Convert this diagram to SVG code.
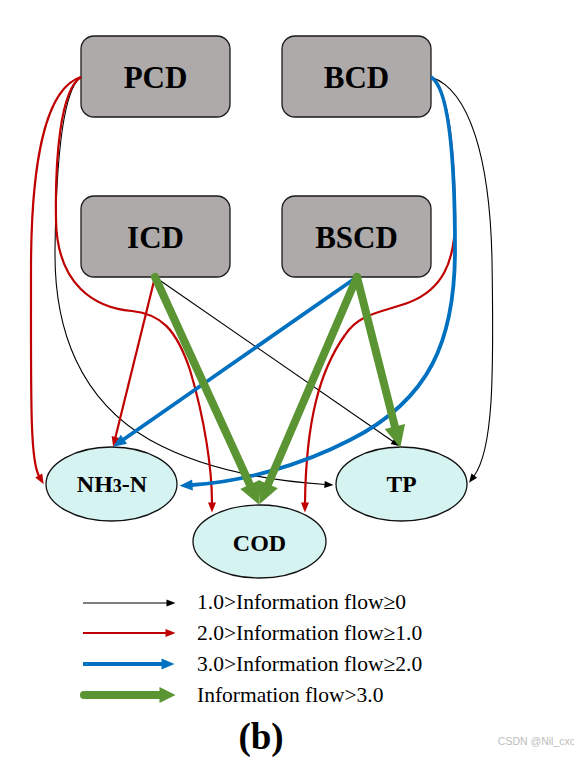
<svg xmlns="http://www.w3.org/2000/svg" width="574" height="758" viewBox="0 0 574 758">
<defs>
<style>
.box{fill:#aeaaaa;stroke:#1a1a1a;stroke-width:1.3}
.ell{fill:#d5f3f0;stroke:#111;stroke-width:1.3}
.lbl{font-weight:bold;fill:#000;text-anchor:middle}
.leg{font-size:21.5px;fill:#000}
.k{fill:none;stroke:#000;stroke-width:1.1}
.r{fill:none;stroke:#c00000;stroke-width:2.2}
.b{fill:none;stroke:#0070c0;stroke-width:3.8}
.g{fill:none;stroke:#5b9533;stroke-width:8;stroke-linecap:round}
</style>
<marker id="mk" markerUnits="userSpaceOnUse" markerWidth="10" markerHeight="8" refX="0.5" refY="3.5" orient="auto" overflow="visible"><path d="M0,0 L9,3.5 L0,7z" fill="#000"/></marker>
<marker id="mr" markerUnits="userSpaceOnUse" markerWidth="10" markerHeight="9" refX="0.5" refY="4" orient="auto" overflow="visible"><path d="M0,0 L10,4 L0,8z" fill="#c00000"/></marker>
<marker id="mb" markerUnits="userSpaceOnUse" markerWidth="13" markerHeight="12" refX="0.5" refY="5.5" orient="auto" overflow="visible"><path d="M0,0 L13,5.5 L0,11z" fill="#0070c0"/></marker>
<marker id="mg" markerUnits="userSpaceOnUse" markerWidth="22" markerHeight="22" refX="0.5" refY="10.5" orient="auto" overflow="visible"><path d="M0,0 L22,10.5 L0,21z" fill="#5b9533"/></marker>
<marker id="mgl" markerUnits="userSpaceOnUse" markerWidth="16" markerHeight="17" refX="0.5" refY="8" orient="auto" overflow="visible"><path d="M0,0 L16,8 L0,16z" fill="#5b9533"/></marker>
</defs>
<rect width="574" height="758" fill="#fff"/>

<g font-family="'Liberation Serif', 'Times New Roman', serif">
<g id="PCD"><rect class="box" x="81" y="36" width="149" height="81" rx="13"/><text class="lbl" x="155.5" y="88" font-size="31">PCD</text></g>
<g id="BCD"><rect class="box" x="282" y="36" width="149" height="81" rx="13"/><text class="lbl" x="356.5" y="88" font-size="31">BCD</text></g>
<g id="ICD"><rect class="box" x="81" y="196" width="149" height="81" rx="13"/><text class="lbl" x="155.5" y="248" font-size="31">ICD</text></g>
<g id="BSCD"><rect class="box" x="282" y="196" width="149" height="81" rx="13"/><text class="lbl" x="356.5" y="248" font-size="31">BSCD</text></g>
<g id="NH3N"><ellipse class="ell" cx="111.5" cy="484" rx="65.5" ry="37"/><text class="lbl" x="112" y="492" font-size="24">NH<tspan font-size="18">3</tspan>-N</text></g>
<g id="TP"><ellipse class="ell" cx="401.5" cy="484" rx="65.5" ry="37"/><text class="lbl" x="401.5" y="492" font-size="23.5">TP</text></g>
<g id="COD"><ellipse class="ell" cx="259.5" cy="541.5" rx="66.5" ry="36.5"/><text class="lbl" x="259.5" y="551" font-size="24">COD</text></g>
</g>

<g id="connectors">
<path class="k" marker-end="url(#mk)" d="M81,77 C62,90 56,170 55,250 C54,330 80,400 150,440 C200,468 260,480 325,484.5"/>
<path class="k" marker-end="url(#mk)" d="M155,277 L393,441.5"/>
<path class="k" marker-end="url(#mk)" d="M431,77 C470,90 490,160 492,260 C494,380 493,450 474,476"/>
<path class="r" marker-end="url(#mr)" d="M81,77 C46,88 31,160 31,270 C31,400 30,460 39,476"/>
<path class="r" marker-end="url(#mr)" d="M81,77 C60,90 55,160 56,220 C57,285 95,308 132,311 C160,314 176,328 190,370 C205,420 212,470 212,503"/>
<path class="r" marker-end="url(#mr)" d="M155,277 L115.4,437.5"/>
<path class="r" marker-end="url(#mr)" d="M431,77 C448,88 454,150 455,215 C456,265 440,290 410,302 C385,312 360,312 345,335 C320,370 306,420 305,503"/>
<path class="b" marker-end="url(#mb)" d="M357,277 L123.5,439.5"/>
<path class="b" marker-end="url(#mb)" d="M431,77 C449,88 455,160 455,250 C455,340 430,400 350,440 C300,466 240,482 192,485"/>
<path class="g" marker-end="url(#mg)" d="M155,277 L250,485"/>
<path class="g" marker-end="url(#mg)" d="M357,277 L268,484.5"/>
<path class="g" marker-end="url(#mg)" d="M357,277 L395,427"/>
</g>

<g id="legend" font-family="'Liberation Serif', 'Times New Roman', serif">
<line class="k" x1="83" y1="603" x2="167" y2="603" marker-end="url(#mk)"/>
<line class="r" x1="83" y1="633" x2="166" y2="633" stroke-width="2.5" marker-end="url(#mr)"/>
<line class="b" x1="83" y1="664" x2="162" y2="664" marker-end="url(#mb)"/>
<line class="g" x1="84" y1="695" x2="160" y2="695" stroke-width="6" marker-end="url(#mgl)"/>
<text class="leg" x="197" y="609">1.0&gt;Information flow≥0</text>
<text class="leg" x="197" y="640">2.0&gt;Information flow≥1.0</text>
<text class="leg" x="197" y="671">3.0&gt;Information flow≥2.0</text>
<text class="leg" x="197" y="702">Information flow&gt;3.0</text>
<text class="lbl" x="261" y="749" font-size="37">(b)</text>
</g>
<text x="575" y="745" font-family="'Liberation Sans', Arial, sans-serif" font-size="10.5" fill="#bdbdbd" text-anchor="end">CSDN @Nil_cxc</text>
</svg>
